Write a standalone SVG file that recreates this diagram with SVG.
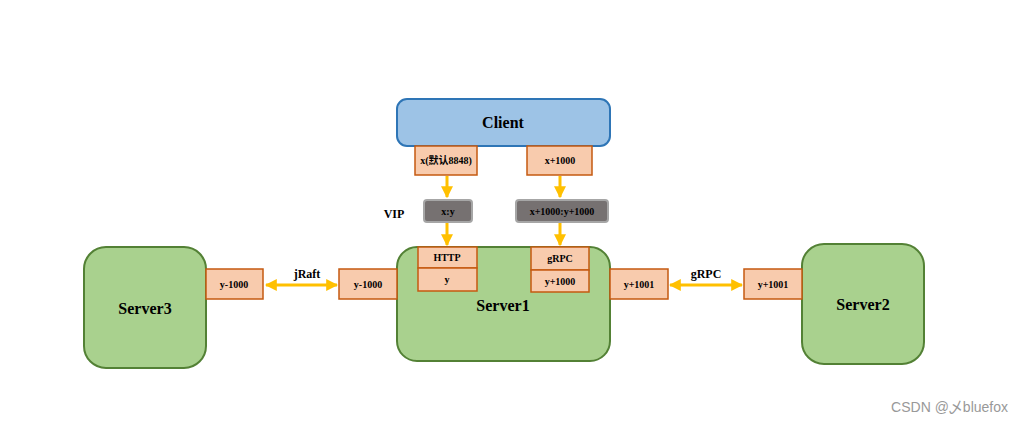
<svg xmlns="http://www.w3.org/2000/svg" width="1025" height="423" viewBox="0 0 1025 423">
<style>
.srv{fill:#a9d18e;stroke:#538135;stroke-width:2}
.port{fill:#f8cbad;stroke:#c55a11;stroke-width:1.5}
.vip{fill:#767171;stroke:#a6a6a6;stroke-width:2}
.t{font-family:"Liberation Serif","Noto Sans CJK SC",serif;font-weight:bold;fill:#000;text-anchor:middle}
.s{font-size:10px}
.big{font-size:16px}
.lbl{font-size:12px}
.con{stroke:#ffc000;stroke-width:3;fill:none}
</style>
<defs>
<marker id="ah" viewBox="0 0 10 10" refX="9" refY="5" markerWidth="4" markerHeight="4" orient="auto-start-reverse">
<path d="M0,0 L10,5 L0,10 z" fill="#ffc000"/>
</marker>
</defs>
<rect width="1025" height="423" fill="#fff"/>
<g id="connectors">
<line class="con" x1="447" y1="176" x2="447" y2="197" marker-end="url(#ah)"/>
<line class="con" x1="560" y1="176" x2="560" y2="197" marker-end="url(#ah)"/>
<line class="con" x1="447" y1="223" x2="447" y2="245" marker-end="url(#ah)"/>
<line class="con" x1="560" y1="223" x2="560" y2="245" marker-end="url(#ah)"/>
<line class="con" x1="266" y1="285" x2="337" y2="285" marker-start="url(#ah)" marker-end="url(#ah)"/>
<line class="con" x1="670" y1="285" x2="742" y2="285" marker-start="url(#ah)" marker-end="url(#ah)"/>
<text class="t lbl" x="307" y="278">jRaft</text>
<text class="t lbl" x="706" y="278">gRPC</text>
</g>
<g id="client">
<rect x="397" y="99" width="213" height="47" rx="10" fill="#9dc3e6" stroke="#2e75b6" stroke-width="2"/>
<text class="t big" x="503" y="128">Client</text>
</g>
<g id="client-port-x">
<rect class="port" x="415" y="146" width="62" height="29"/>
<text class="t s" x="446" y="164">x(默认8848)</text>
</g>
<g id="client-port-x1000">
<rect class="port" x="527" y="146" width="65" height="29"/>
<text class="t s" x="560" y="164">x+1000</text>
</g>
<g id="vip-label">
<text class="t lbl" x="394" y="218">VIP</text>
</g>
<g id="vip1">
<rect class="vip" x="424" y="200" width="48" height="22" rx="3"/>
<text class="t s" x="448" y="215">x:y</text>
</g>
<g id="vip2">
<rect class="vip" x="516" y="200" width="92" height="22" rx="3"/>
<text class="t s" x="562" y="215">x+1000:y+1000</text>
</g>
<g id="server1">
<rect class="srv" x="397" y="247" width="213" height="114" rx="20"/>
<text class="t big" x="503" y="311">Server1</text>
</g>
<g id="s1-http">
<rect class="port" x="418" y="247" width="59" height="21"/>
<text class="t s" x="447" y="261">HTTP</text>
<rect class="port" x="418" y="268" width="59" height="23"/>
<text class="t s" x="447" y="283">y</text>
</g>
<g id="s1-grpc">
<rect class="port" x="531" y="247" width="58" height="23"/>
<text class="t s" x="560" y="262">gRPC</text>
<rect class="port" x="531" y="270" width="58" height="22"/>
<text class="t s" x="560" y="285">y+1000</text>
</g>
<g id="s1-left">
<rect class="port" x="339" y="269" width="58" height="30"/>
<text class="t s" x="368" y="288">y-1000</text>
</g>
<g id="s1-right">
<rect class="port" x="610" y="269" width="58" height="30"/>
<text class="t s" x="639" y="288">y+1001</text>
</g>
<g id="server3">
<rect class="srv" x="84" y="247" width="122" height="121" rx="22"/>
<text class="t big" x="145" y="314">Server3</text>
<rect class="port" x="206" y="269" width="57" height="30"/>
<text class="t s" x="234" y="288">y-1000</text>
</g>
<g id="server2">
<rect class="srv" x="802" y="244" width="122" height="120" rx="22"/>
<text class="t big" x="863" y="310">Server2</text>
<rect class="port" x="744" y="269" width="58" height="30"/>
<text class="t s" x="773" y="288">y+1001</text>
</g>
<text x="1008" y="412" font-family="'Liberation Sans','Noto Sans CJK SC',sans-serif" font-size="14" fill="#999" text-anchor="end">CSDN @乄bluefox</text>
</svg>
